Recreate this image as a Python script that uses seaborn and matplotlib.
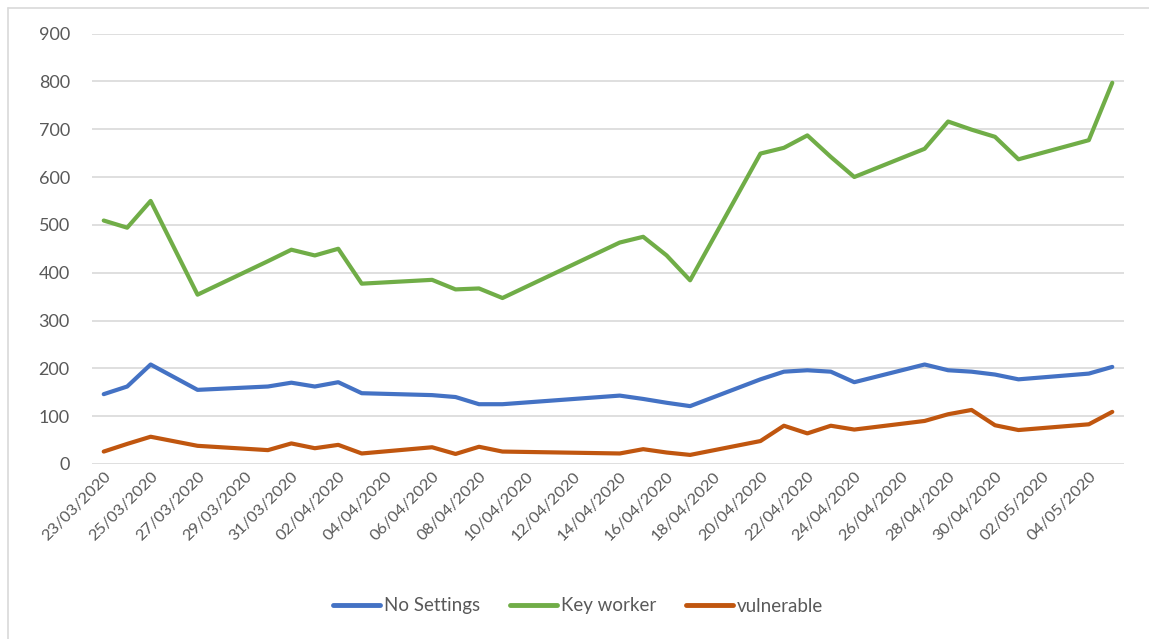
import pandas as pd
import numpy as np
import matplotlib
matplotlib.use("Agg")
import matplotlib.pyplot as plt
import matplotlib.dates as mdates
from matplotlib.lines import Line2D
import seaborn as sns

# readings taken off the chart (weekdays, bank holidays skipped)
dates = ["23/03/2020", "24/03/2020", "25/03/2020", "27/03/2020", "30/03/2020", "31/03/2020",
         "01/04/2020", "02/04/2020", "03/04/2020", "06/04/2020", "07/04/2020", "08/04/2020",
         "09/04/2020", "14/04/2020", "15/04/2020", "16/04/2020", "17/04/2020", "20/04/2020",
         "21/04/2020", "22/04/2020", "23/04/2020", "24/04/2020", "27/04/2020", "28/04/2020",
         "29/04/2020", "30/04/2020", "01/05/2020", "04/05/2020", "05/05/2020"]
no_settings = [146, 162, 208, 155, 162, 170, 162, 171, 148, 144, 140, 125,
               125, 143, 136, 128, 121, 177, 193, 196, 193, 171, 208, 196,
               193, 187, 177, 189, 203]
key_worker = [509, 494, 550, 354, 424, 448, 436, 450, 377, 385, 365, 367,
              347, 463, 475, 436, 384, 649, 661, 687, 642, 600, 659, 716,
              699, 684, 637, 677, 797]
vulnerable = [26, 42, 57, 38, 29, 43, 33, 40, 22, 35, 21, 36,
              26, 22, 31, 24, 19, 48, 80, 64, 80, 72, 90, 104,
              113, 81, 71, 83, 109]

series_names = ["No Settings", "Key worker", "vulnerable"]
colours = ["#4472C4", "#70AD47", "#C0560F"]

df = pd.DataFrame({
    "date": pd.to_datetime(dates * 3, format="%d/%m/%Y"),
    "value": no_settings + key_worker + vulnerable,
    "series": np.repeat(series_names, len(dates)),
})

sns.set_theme(style="white")
plt.rcParams["font.family"] = ["Lato", "DejaVu Sans"]

fig = plt.figure(figsize=(11.49, 6.39), dpi=100)
ax = fig.add_axes([92 / 1149, 1 - 464 / 639, (1124 - 92) / 1149, (464 - 33.5) / 639])

sns.lineplot(data=df, x="date", y="value", hue="series", hue_order=series_names,
             palette=colours, linewidth=3, ax=ax, legend=False)

ax.set_xlim(pd.Timestamp("2020-03-22 12:00"), pd.Timestamp("2020-05-05 12:00"))
ax.set_ylim(0, 900)
ax.set_yticks(range(0, 901, 100))
ax.set_xticks(pd.date_range("2020-03-23", "2020-05-04", freq="2D"))
ax.xaxis.set_major_formatter(mdates.DateFormatter("%d/%m/%Y"))

ax.grid(axis="y", color="#D9D9D9", linewidth=1.2)
ax.set_axisbelow(True)
for s in ax.spines.values():
    s.set_visible(False)
ax.set_xlabel("")
ax.set_ylabel("")
ax.tick_params(axis="y", length=0, pad=16, labelsize=13, labelcolor="#595959")
ax.tick_params(axis="x", length=0, pad=4, labelsize=11.8, labelcolor="#595959")
for lbl in ax.get_xticklabels():
    lbl.set_rotation(45)
    lbl.set_ha("right")
    lbl.set_rotation_mode("anchor")

handles = [Line2D([], [], color=c, linewidth=3.5) for c in colours]
fig.legend(handles, series_names, loc="center", bbox_to_anchor=(578 / 1149, 1 - 606 / 639),
           ncol=3, frameon=False, fontsize=13.5, handlelength=2.5, handletextpad=0.2,
           columnspacing=1.6, labelcolor="#595959")

# chart frame (left and top edges visible in the screenshot)
fig.add_artist(Line2D([8 / 1149, 8 / 1149], [0, 1 - 8 / 639], color="#D9D9D9", linewidth=1.2))
fig.add_artist(Line2D([8 / 1149, 1], [1 - 8 / 639, 1 - 8 / 639], color="#D9D9D9", linewidth=1.2))

fig.savefig("out.png", dpi=100)
